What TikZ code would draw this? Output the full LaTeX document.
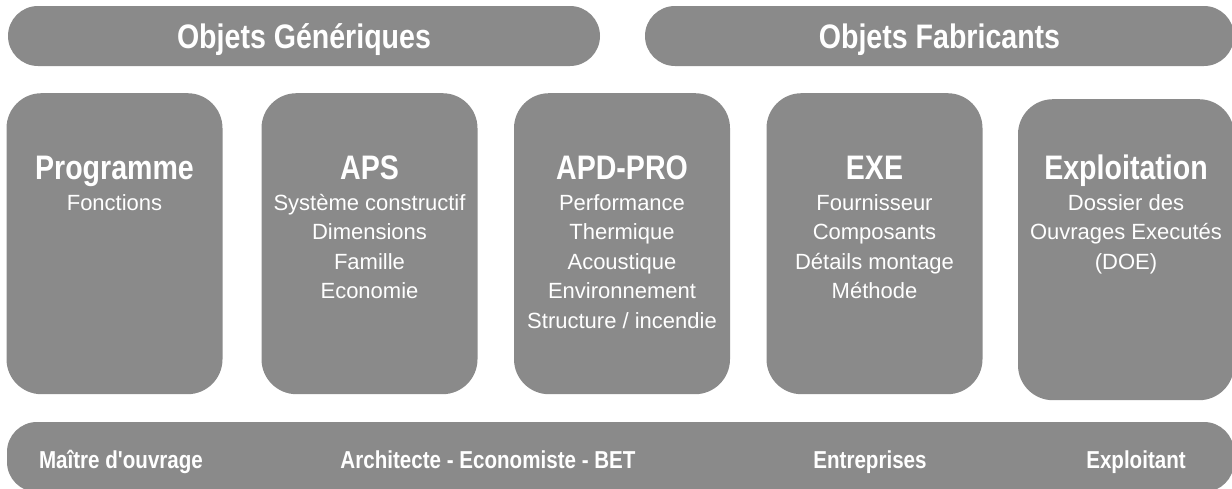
\documentclass[tikz,border=0pt]{standalone}
\usepackage{fontspec}
\setmainfont{Liberation Sans}
\newfontfamily\narrowfont{Liberation Sans}[FakeStretch=0.84]
\usepackage{tikz}
\usetikzlibrary{positioning}

\definecolor{phasegray}{RGB}{138,138,138}

\tikzset{
    bar/.style={fill=phasegray, rounded corners=30pt, minimum height=60pt, inner sep=0pt,
        text=white, font=\narrowfont\bfseries\fontsize{34}{38}\selectfont,
        text height=24pt, text depth=0pt},
    phasebox/.style={fill=phasegray, rounded corners=35pt, minimum width=216pt,
        minimum height=301pt, anchor=north, inner sep=0pt},
    phasetitle/.style={text=white, font=\narrowfont\bfseries\fontsize{34}{38}\selectfont,
        anchor=base, inner sep=0pt},
    phaselist/.style={text=white, font=\fontsize{22}{29.5}\selectfont, anchor=base, inner sep=0pt},
    actor/.style={text=white, font=\narrowfont\bfseries\fontsize{24.5}{28}\selectfont,
        anchor=base, inner sep=0pt}
}

\begin{document}
\begin{tikzpicture}[x=1pt, y=-1pt]
            \useasboundingbox (0,0) rectangle (1232,488);
            \clip (0,0) rectangle (1232,488);

            % bandeaux du haut
            \node[bar, minimum width=592pt] (generic) at (304,36) {Objets Génériques};
            \node[bar, minimum width=589pt] (maker) at (939.5,36) {Objets Fabricants};

            % phases
            \node[phasebox] (prog) at (114.5,93) {};
            \node[phasebox] (aps) at (369.5,93) {};
            \node[phasebox] (apd) at (622,93) {};
            \node[phasebox] (exe) at (874.5,93) {};
            \node[phasebox] (expl) at (1126,99) {};

            \node[phasetitle] (progtitle) at (114.5,179) {Programme};
            \node[phasetitle] (apstitle) at (369.5,179) {APS};
            \node[phasetitle] (apdtitle) at (622,179) {APD-PRO};
            \node[phasetitle] (exetitle) at (874.5,179) {EXE};
            \node[phasetitle] (expltitle) at (1126,179) {Exploitation};

            \node[phaselist] (proglist) at (114.5,210)
                {\begin{tabular}[t]{@{}c@{}}Fonctions\end{tabular}};
            \node[phaselist] (apslist) at (369.5,210)
                {\begin{tabular}[t]{@{}c@{}}Système constructif\\Dimensions\\Famille\\Economie\end{tabular}};
            \node[phaselist] (apdlist) at (622,210)
                {\begin{tabular}[t]{@{}c@{}}Performance\\Thermique\\Acoustique\\Environnement\\Structure / incendie\end{tabular}};
            \node[phaselist] (exelist) at (874.5,210)
                {\begin{tabular}[t]{@{}c@{}}Fournisseur\\Composants\\Détails montage\\Méthode\end{tabular}};
            \node[phaselist] (expllist) at (1126,210)
                {\begin{tabular}[t]{@{}c@{}}Dossier des\\Ouvrages Executés\\(DOE)\end{tabular}};

            % bandeau des acteurs
            \node[phasebox, anchor=center, minimum width=1227pt, minimum height=70pt,
                rounded corners=30pt] (actors) at (620.5,457) {};
            \node[actor] (moa) at (121,468) {Maître d'ouvrage};
            \node[actor] (moe) at (488,468) {Architecte - Economiste - BET};
            \node[actor] (ent) at (870,468) {Entreprises};
            \node[actor] (explo) at (1136,468) {Exploitant};
        \end{tikzpicture}
\end{document}
